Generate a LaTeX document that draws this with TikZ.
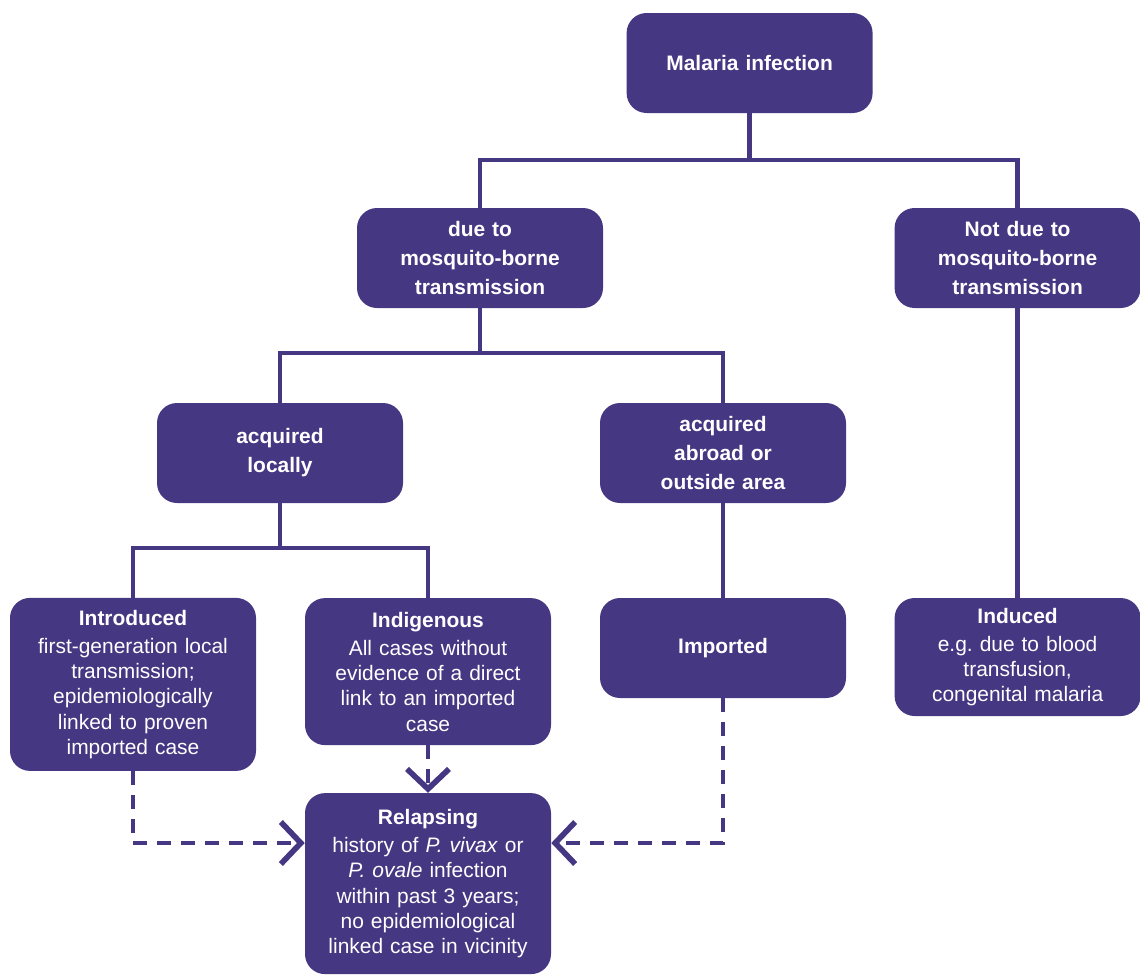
\documentclass[tikz,border=0pt]{standalone}
\usepackage{fontspec}
\setmainfont{Liberation Sans}
\usepackage{xcolor}
\usetikzlibrary{arrows.meta,positioning}
\definecolor{malpurple}{RGB}{70,55,130}
\frenchspacing

\begin{document}
\begin{tikzpicture}[
        box/.style={fill=malpurple, rounded corners=0.5cm, minimum width=6.15cm,
            minimum height=2.5cm, text width=5.6cm, align=center, text=white, inner sep=0pt},
        headbox/.style={box, font=\bfseries\fontsize{14.9}{20.6}\selectfont},
        casebox/.style={box, font=\fontsize{14.9}{18}\selectfont},
        link/.style={draw=malpurple, line width=3.2pt},
        dashlink/.style={link, dash pattern=on 0.35cm off 0.25cm,
            -{Straight Barb[length=0.5cm, width=1.05cm, line width=4pt]}}
    ]
        \useasboundingbox (0,0) rectangle (28.5,-24.35);

        % Oberste Ebene
        \node[headbox] (malaria) at (18.74,-1.575) {Malaria infection};

        % Übertragungsweg
        \node[headbox] (mosq) at (12.0,-6.45) {due to\\mosquito-borne\\transmission};
        \node[headbox] (notmosq) at (25.44,-6.45) {Not due to\\mosquito-borne\\transmission};

        % Herkunft
        \node[headbox] (local) at (7.0,-11.325) {acquired\\locally};
        \node[headbox] (abroad) at (18.075,-11.325) {acquired\\abroad or\\outside area};

        % Fallklassen
        \node[casebox, minimum height=4.325cm] (introduced) at (3.325,-17.11)
            {\textbf{Introduced}\\[2pt]first-generation local\\transmission;\\epidemiologically\\linked to proven\\imported case};
        \node[casebox, minimum height=3.675cm] (indigenous) at (10.7,-16.79)
            {\textbf{Indigenous}\\[2pt]All cases without\\evidence of a direct\\link to an imported\\case};
        \node[headbox] (imported) at (18.075,-16.2) {Imported};
        \node[casebox, minimum height=2.95cm] (induced) at (25.44,-16.425)
            {\textbf{Induced}\\[2pt]e.g. due to blood\\transfusion,\\congenital malaria};

        % Rückfall
        \node[casebox, minimum height=4.525cm] (relapsing) at (10.7,-22.09)
            {\textbf{Relapsing}\\[2pt]history of \textit{P. vivax} or\\\textit{P. ovale} infection\\within past 3 years;\\no epidemiological\\linked case in vicinity};

        % Verzweigungen
        \coordinate (busA) at (18.74,-4.0);
        \coordinate (busB) at (12.0,-8.825);
        \coordinate (busC) at (7.0,-13.7);
        \draw[link] (malaria.south) -- (busA);
        \draw[link] (mosq.north) |- (busA) -| (notmosq.north);
        \draw[link] (mosq.south) -- (busB);
        \draw[link] (local.north) |- (busB) -| (abroad.north);
        \draw[link] (local.south) -- (busC);
        \draw[link] (introduced.north) |- (busC) -| (indigenous.north);
        \draw[link] (abroad.south) -- (imported.north);
        \draw[link] (notmosq.south) -- (induced.north);

        % Gestrichelte Pfeile
        \coordinate (relL) at ([yshift=1.015cm]relapsing.west);
        \coordinate (relR) at ([yshift=1.015cm]relapsing.east);
        \draw[dashlink] (introduced.south) |- (relL);
        \draw[dashlink] (indigenous.south) -- (relapsing.north);
        \draw[dashlink] (imported.south) |- (relR);
    \end{tikzpicture}
\end{document}
